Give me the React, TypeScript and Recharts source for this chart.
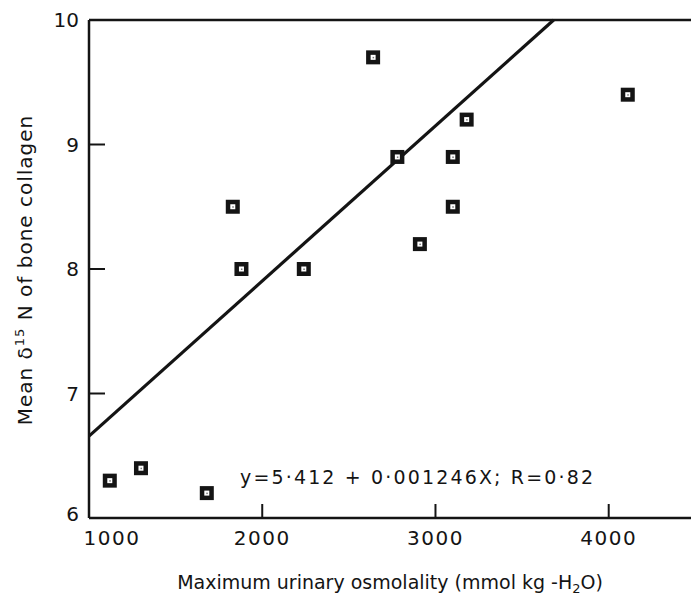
import React from "react";
import { ScatterChart, Scatter, XAxis, YAxis, ReferenceLine } from "recharts";

// maximum urinary osmolality (mmol kg-H2O) and mean bone collagen δ15N
const osmolality = [1120, 1300, 1680, 1830, 1880, 2240, 2640, 2780, 2910, 3100, 3100, 3180, 4110];
const deltaN = [6.3, 6.4, 6.2, 8.5, 8.0, 8.0, 9.7, 8.9, 8.2, 8.9, 8.5, 9.2, 9.4];

const xTicks = [1000, 2000, 3000, 4000];
const yTicks = [6, 7, 8, 9, 10];

// regression y = a + bX
const fitA = 5.412;
const fitB = 0.001246;
const fitR = "0·82";

const X_MIN = 1000;
const X_MAX = 4475;
const Y_MIN = 6;
const Y_MAX = 10;

const INK = "#141414";
const FONT = "'DejaVu Sans', sans-serif";

const points = osmolality.map((x, i) => ({ x, y: deltaN[i] }));

const fitStart = { x: X_MIN, y: fitA + fitB * X_MIN };
const fitEnd = { x: (Y_MAX - fitA) / fitB, y: Y_MAX };

const fmt = (n: number) => String(n).replace(".", "·");

function SquareMark(props: any) {
  const { cx, cy } = props;
  return (
    <g>
      <rect x={cx - 7} y={cy - 7} width={14} height={14} fill={INK} />
      <rect x={cx - 2.5} y={cy - 2.5} width={5} height={5} fill="#fff" />
      <rect x={cx - 0.5} y={cy - 0.5} width={1.5} height={1.5} fill="#777" />
    </g>
  );
}

function XTick(props: any) {
  const { x, y, payload } = props;
  const v = payload.value;
  const first = v === xTicks[0];
  return (
    <g>
      {!first && <line x1={x} y1={y} x2={x} y2={y - 14} stroke={INK} strokeWidth={2} />}
      <text
        x={x + (first ? 23 : 0)}
        y={y + 27}
        textAnchor="middle"
        fontFamily={FONT}
        fontSize={20}
        letterSpacing={1.5}
        fill={INK}
      >
        {v}
      </text>
    </g>
  );
}

function YTick(props: any) {
  const { x, y, payload } = props;
  const v = payload.value;
  const edge = v === yTicks[0] || v === yTicks[yTicks.length - 1];
  return (
    <g>
      {!edge && <line x1={x} y1={y} x2={x + 16} y2={y} stroke={INK} strokeWidth={2} />}
      <text
        x={x - 10}
        y={y + 7 - (v === yTicks[0] ? 4 : 0)}
        textAnchor="end"
        fontFamily={FONT}
        fontSize={20}
        fill={INK}
      >
        {v}
      </text>
    </g>
  );
}

export default function App() {
  return (
    <div style={{ position: "absolute", left: 0, top: 0, width: 691, height: 600, background: "#fff" }}>
      <ScatterChart width={691} height={600} margin={{ top: 20, right: 0, bottom: 52, left: 0 }}>
        <XAxis
          type="number"
          dataKey="x"
          domain={[X_MIN, X_MAX]}
          ticks={xTicks}
          allowDataOverflow
          height={30}
          tickSize={0}
          tickMargin={0}
          tickLine={false}
          axisLine={{ stroke: INK, strokeWidth: 2.5 }}
          tick={<XTick />}
        />
        <YAxis
          type="number"
          dataKey="y"
          domain={[Y_MIN, Y_MAX]}
          ticks={yTicks}
          allowDataOverflow
          width={89}
          tickSize={0}
          tickMargin={0}
          tickLine={false}
          axisLine={{ stroke: INK, strokeWidth: 2.5 }}
          tick={<YTick />}
        />
        <ReferenceLine y={Y_MAX} stroke={INK} strokeWidth={2.5} />
        <ReferenceLine segment={[fitStart, fitEnd]} stroke={INK} strokeWidth={3.2} />
        <Scatter data={points} shape={<SquareMark />} isAnimationActive={false} />

        <text
          x={240}
          y={484}
          textLength={353}
          lengthAdjust="spacing"
          fontFamily={FONT}
          fontSize={19}
          fill={INK}
        >
          {`y=${fmt(fitA)} + ${fmt(fitB)}X; R=${fitR}`}
        </text>
        <text
          x={390}
          y={589}
          textAnchor="middle"
          fontFamily={FONT}
          fontSize={19}
          fill={INK}
        >
          Maximum urinary osmolality (mmol kg -H
          <tspan dy={4} fontSize={13}>2</tspan>
          <tspan dy={-4}>O)</tspan>
        </text>
        <text
          transform="rotate(-90, 32, 270)"
          x={32}
          y={270}
          textAnchor="middle"
          fontFamily={FONT}
          fontSize={20}
          letterSpacing={1}
          fill={INK}
        >
          Mean δ
          <tspan dy={-8} fontSize={13}>15</tspan>
          <tspan dy={8}> N of bone collagen</tspan>
        </text>
      </ScatterChart>
    </div>
  );
}
